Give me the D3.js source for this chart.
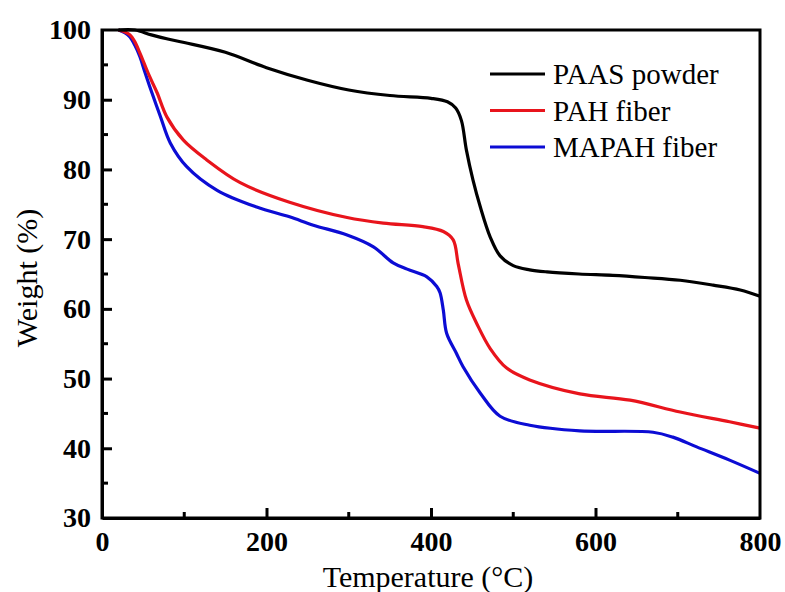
<!DOCTYPE html>
<html>
<head>
<meta charset="utf-8">
<script src="https://cdn.jsdelivr.net/npm/d3@7"></script>
<style>
  body { margin: 0; background: #fff; }
  svg { display: block; }
  svg text { font-family: 'Liberation Serif', 'Times New Roman', 'DejaVu Serif', serif; }
</style>
</head>
<body>
<svg id="drawing_region"></svg>
<script>
// TGA curves
var paasT = [20, 40, 60, 80, 100, 150, 200, 250, 300, 350, 400, 420, 430, 437, 443, 451, 460, 472, 484, 500, 520, 541, 580, 621, 660, 703, 743, 776, 800];
var paasW = [100, 100, 99.3, 98.7, 98.2, 96.8, 94.6, 92.8, 91.4, 90.6, 90.2, 89.7, 88.8, 87.0, 82.8, 78.5, 74.6, 70.3, 67.6, 66.2, 65.6, 65.3, 65.0, 64.8, 64.5, 64.1, 63.4, 62.7, 61.8];

var pahT = [20, 28, 34, 40, 46, 52, 58, 67, 79, 99, 127, 168, 228, 298, 342, 390, 415, 427, 433, 443, 456, 472, 492, 520, 581, 642, 703, 763, 800];
var pahW = [100, 99.7, 99.3, 98.3, 96.7, 95.0, 93.3, 91.0, 87.5, 84.2, 81.4, 78.1, 75.3, 73.1, 72.3, 71.8, 71.1, 69.9, 66.5, 61.3, 57.8, 54.3, 51.5, 49.8, 47.8, 46.9, 45.2, 43.8, 42.9];

var mapahT = [20, 28, 34, 40, 46, 52, 58, 71, 83, 103, 140, 188, 228, 257, 298, 330, 354, 371, 395, 407, 411, 415, 419, 431, 439, 460, 484, 520, 581, 670, 694, 723, 763, 800];
var mapahW = [100, 99.6, 99.0, 97.8, 96.2, 94.0, 91.9, 87.6, 83.8, 80.4, 77.0, 74.6, 73.2, 72.0, 70.6, 68.9, 66.6, 65.7, 64.6, 63.2, 62.3, 59.8, 56.5, 53.6, 51.7, 47.9, 44.6, 43.3, 42.5, 42.3, 41.6, 40.2, 38.3, 36.4];

var seriesNames = ['PAAS powder', 'PAH fiber', 'MAPAH fiber'];
var seriesColors = ['#000000', '#e8141c', '#0c0cd4'];

var xTicks = [0, 200, 400, 600, 800];
var yTicks = [30, 40, 50, 60, 70, 80, 90, 100];

var width = 785;
var height = 592;
var margin = {top: 30, right: 25, bottom: 74, left: 102};
const inner_width = width - margin.left - margin.right;
const inner_height = height - margin.top - margin.bottom;
const serif = "'Liberation Serif', 'Times New Roman', 'DejaVu Serif', serif";

var svg = d3.select('#drawing_region')
    .attr('width', width)
    .attr('height', height);

var chart = svg.append('g')
    .attr('transform', `translate(${margin.left}, ${margin.top})`);

var xscale = d3.scaleLinear().domain([0, 800]).range([0, inner_width]);
var yscale = d3.scaleLinear().domain([30, 100]).range([inner_height, 0]);

var series = [
    {name: seriesNames[0], color: seriesColors[0], pts: paasT.map((t, i) => [t, paasW[i]])},
    {name: seriesNames[1], color: seriesColors[1], pts: pahT.map((t, i) => [t, pahW[i]])},
    {name: seriesNames[2], color: seriesColors[2], pts: mapahT.map((t, i) => [t, mapahW[i]])}
];

var line = d3.line()
    .x(d => xscale(d[0]))
    .y(d => yscale(d[1]))
    .curve(d3.curveCatmullRom.alpha(0.5));

// curves (drawn in reverse so black sits on top like the original)
chart.selectAll('path.curve')
    .data(series.slice().reverse())
    .join('path')
    .attr('class', 'curve')
    .attr('fill', 'none')
    .attr('stroke', d => d.color)
    .attr('stroke-width', 3.2)
    .attr('stroke-linejoin', 'round')
    .attr('d', d => line(d.pts));

// minor ticks
var minorX = d3.range(100, 800, 200);
var minorY = d3.range(35, 100, 10);

// x axis, ticks pointing inward
var xaxis = d3.axisBottom(xscale).tickValues(xTicks).tickSize(-10).tickPadding(13).tickSizeOuter(0);
var xg = chart.append('g')
    .attr('transform', `translate(0, ${inner_height})`)
    .call(xaxis);
xg.selectAll('.tick').filter(d => d === 0 || d === 800).select('line').remove();
xg.selectAll('.minor')
    .data(minorX)
    .join('line')
    .attr('class', 'minor')
    .attr('x1', d => xscale(d)).attr('x2', d => xscale(d))
    .attr('y1', 0).attr('y2', -6)
    .attr('stroke', '#000').attr('stroke-width', 3);

// y axis
var yaxis = d3.axisLeft(yscale).tickValues(yTicks).tickSize(-10).tickPadding(11).tickSizeOuter(0);
var yg = chart.append('g').call(yaxis);
yg.selectAll('.tick').filter(d => d === 30 || d === 100).select('line').remove();
yg.selectAll('.minor')
    .data(minorY)
    .join('line')
    .attr('class', 'minor')
    .attr('y1', d => yscale(d)).attr('y2', d => yscale(d))
    .attr('x1', 0).attr('x2', 6)
    .attr('stroke', '#000').attr('stroke-width', 3);

xg.attr('font-family', null);
yg.attr('font-family', null);
chart.selectAll('.domain').attr('stroke', '#000').attr('stroke-width', 3);
chart.selectAll('.tick line').attr('stroke', '#000').attr('stroke-width', 3);
chart.selectAll('.tick text')
    .style('font-family', serif)
    .style('font-weight', 'bold')
    .style('font-size', '28px')
    .attr('fill', '#000');

// frame
chart.append('rect')
    .attr('x', 0).attr('y', 0)
    .attr('width', inner_width).attr('height', inner_height)
    .attr('fill', 'none')
    .attr('stroke', '#000')
    .attr('stroke-width', 3);

// axis titles
svg.append('text')
    .attr('x', 428)
    .attr('y', 587)
    .attr('text-anchor', 'middle')
    .style('font-family', serif)
    .style('font-size', '30px')
    .text('Temperature (°C)');

svg.append('text')
    .attr('transform', 'translate(37, 278) rotate(-90)')
    .attr('text-anchor', 'middle')
    .style('font-family', serif)
    .style('font-size', '30px')
    .text('Weight (%)');

// legend
var legend = svg.append('g').attr('transform', 'translate(490, 74)');
var items = legend.selectAll('g')
    .data(series)
    .join('g')
    .attr('transform', (d, i) => `translate(0, ${i * 36.5})`);
items.append('line')
    .attr('x1', 0).attr('x2', 55)
    .attr('stroke', d => d.color)
    .attr('stroke-width', 3);
items.append('text')
    .attr('x', 63)
    .attr('y', 10)
    .style('font-family', serif)
    .style('font-size', '29px')
    .text(d => d.name);
</script>
</body>
</html>
